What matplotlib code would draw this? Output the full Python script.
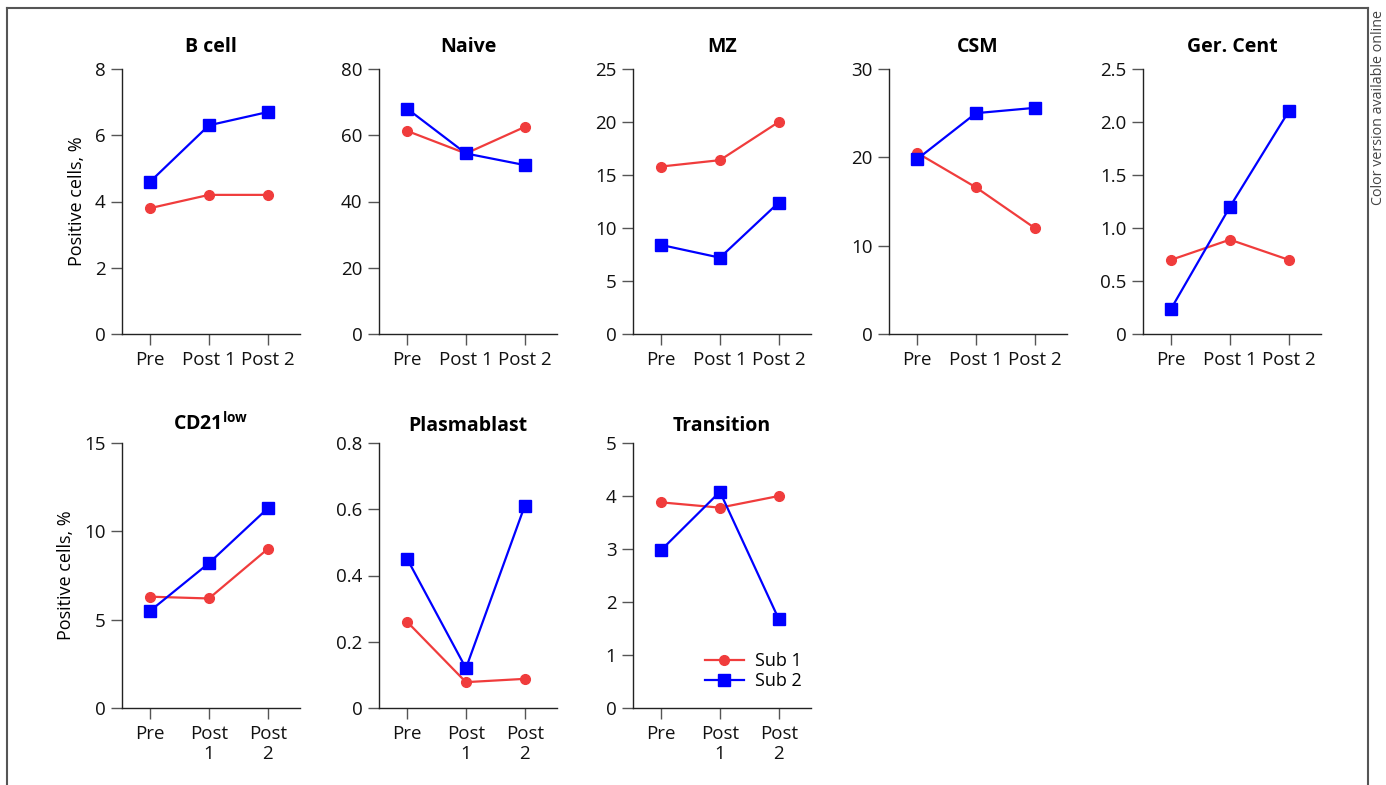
import matplotlib.pyplot as plt
from matplotlib.lines import Line2D
from matplotlib.ticker import FuncFormatter

plt.rcParams['font.family'] = ['Open Sans', 'DejaVu Sans']

# data
timepoints_top = ['Pre', 'Post 1', 'Post 2']
timepoints_bottom = ['Pre', 'Post\n1', 'Post\n2']

titles = ['B cell', 'Naive', 'MZ', 'CSM', 'Ger. Cent',
          'CD21$^{\\mathregular{low}}$', 'Plasmablast', 'Transition']

sub1 = [
    [3.8, 4.2, 4.2],
    [61.3, 54.5, 62.5],
    [15.8, 16.4, 20.0],
    [20.5, 16.6, 12.0],
    [0.70, 0.89, 0.70],
    [6.3, 6.2, 9.0],
    [0.26, 0.078, 0.088],
    [3.88, 3.78, 4.0],
]
sub2 = [
    [4.6, 6.3, 6.7],
    [68.0, 54.5, 51.0],
    [8.4, 7.2, 12.4],
    [19.8, 25.0, 25.6],
    [0.24, 1.2, 2.1],
    [5.5, 8.2, 11.3],
    [0.45, 0.12, 0.61],
    [2.98, 4.08, 1.68],
]
yticks = [
    [0, 2, 4, 6, 8],
    [0, 20, 40, 60, 80],
    [0, 5, 10, 15, 20, 25],
    [0, 10, 20, 30],
    [0, 0.5, 1.0, 1.5, 2.0, 2.5],
    [0, 5, 10, 15],
    [0, 0.2, 0.4, 0.6, 0.8],
    [0, 1, 2, 3, 4, 5],
]
decimals = [0, 0, 0, 0, 1, 0, 1, 0]

RED = '#f03c3c'
BLUE = '#0000ff'
W, H = 1386, 785

fig = plt.figure(figsize=(W / 100, H / 100), dpi=100)

col_left = [122, 379, 633, 889, 1143]
ax_w = 178
rows = [(69, 334), (443, 708)]

for i in range(8):
    r = 0 if i < 5 else 1
    c = i if i < 5 else i - 5
    top, bot = rows[r]
    ax = fig.add_axes([col_left[c] / W, 1 - bot / H, ax_w / W, (bot - top) / H])
    x = [0, 1, 2]
    ax.plot(x, sub1[i], color=RED, marker='o', markersize=7, lw=1.6, label='Sub 1', clip_on=False)
    ax.plot(x, sub2[i], color=BLUE, marker='s', markersize=9, lw=1.6, label='Sub 2', clip_on=False)
    ax.set_xlim(-0.48, 2.55)
    ax.set_ylim(0, yticks[i][-1])
    ax.set_yticks(yticks[i])
    d = decimals[i]
    ax.yaxis.set_major_formatter(FuncFormatter(
        lambda v, p, d=d: '0' if v == 0 else f'{v:.{d}f}'))
    ax.set_xticks(x)
    ax.set_xticklabels(timepoints_top if r == 0 else timepoints_bottom,
                       linespacing=1.15)
    for s in ['top', 'right']:
        ax.spines[s].set_visible(False)
    for s in ['left', 'bottom']:
        ax.spines[s].set_color('#222222')
        ax.spines[s].set_linewidth(1.0)
    ax.tick_params(direction='out', length=8, width=1, color='#555555',
                   labelsize=13.5, pad=4, labelcolor='#111111')
    ax.set_title(titles[i], fontsize=14, fontweight='bold',
                 pad=12 if r == 0 else 9)
    if c == 0:
        ax.set_ylabel('Positive cells, %', fontsize=13, labelpad=6)
    if i == 7:
        ax.legend(loc='lower right', frameon=False, fontsize=13,
                  handlelength=2.2, borderaxespad=0.3, labelspacing=0.1,
                  handletextpad=0.6, bbox_to_anchor=(1.02, 0.02))

# frame around the figure
frame = dict(color='#555555', lw=1.5, transform=fig.transFigure)
fig.add_artist(Line2D([7 / W, 7 / W], [0, 1 - 8 / H], **frame))
fig.add_artist(Line2D([7 / W, 1368 / W], [1 - 8 / H, 1 - 8 / H], **frame))
fig.add_artist(Line2D([1368 / W, 1368 / W], [0, 1 - 8 / H], **frame))

fig.text(1379 / W, 1 - 10 / H, 'Color version available online', rotation=90,
         ha='center', va='top', fontsize=10.3, color='#444444')

fig.savefig('out.png', dpi=100)
